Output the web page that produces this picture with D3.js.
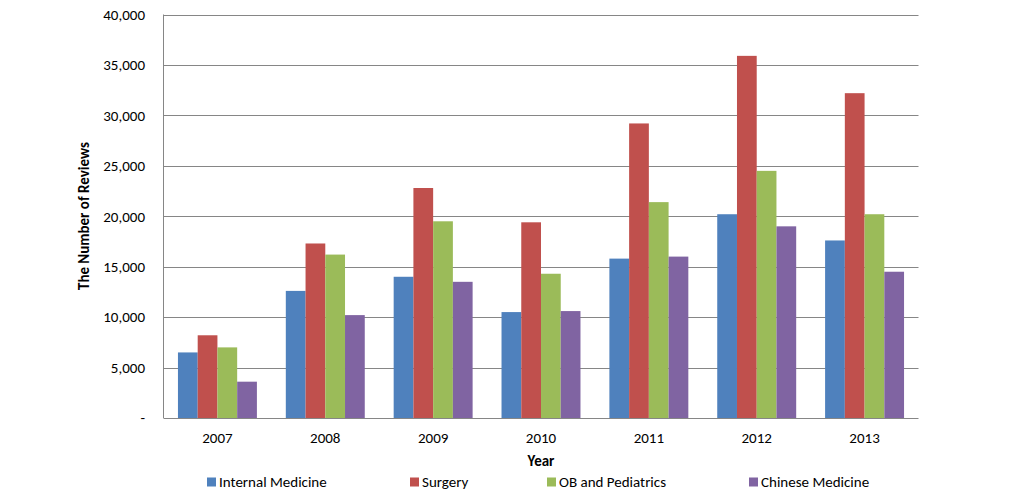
<!DOCTYPE html>
<html>
<head>
<meta charset="utf-8">
<script src="https://cdn.jsdelivr.net/npm/d3@7"></script>
<style>
  body { margin: 0; background: #fff; }
  text { font-family: Carlito, Lato, "Open Sans", sans-serif; fill: #000; }
</style>
</head>
<body>
<div id="chart"></div>
<script>
var years = ['2007', '2008', '2009', '2010', '2011', '2012', '2013'];
var seriesNames = ['Internal Medicine', 'Surgery', 'OB and Pediatrics', 'Chinese Medicine'];
var seriesColors = ['#4f81bd', '#c0504d', '#9bbb59', '#8064a2'];
var internalMedicine = [6500, 12600, 14000, 10500, 15800, 20200, 17600];
var surgery = [8200, 17300, 22800, 19400, 29200, 35900, 32200];
var obPediatrics = [7000, 16200, 19500, 14300, 21400, 24500, 20200];
var chineseMedicine = [3600, 10200, 13500, 10600, 16000, 19000, 14500];
var yTicks = [0, 5000, 10000, 15000, 20000, 25000, 30000, 35000, 40000];

var allSeries = [internalMedicine, surgery, obPediatrics, chineseMedicine];

var width = 1019, height = 499;
var plotLeft = 163.5, plotRight = 918.5, plotTop = 14.5, plotBottom = 418;
var fontSize = "15px";

var svg = d3.select("#chart").append("svg")
  .attr("width", width)
  .attr("height", height);

var x = d3.scaleBand()
  .domain(years)
  .range([plotLeft, plotRight])
  .paddingInner(0.268)
  .paddingOuter(0.134);

var xs = d3.scaleBand()
  .domain(seriesNames)
  .range([0, x.bandwidth()]);

var y = d3.scaleLinear()
  .domain([0, 40000])
  .range([plotBottom, plotTop]);

// gridlines
svg.append("g")
  .selectAll("line")
  .data(yTicks.slice(1))
  .enter().append("line")
  .attr("x1", plotLeft)
  .attr("x2", plotRight)
  .attr("y1", d => Math.round(y(d)) + 0.5)
  .attr("y2", d => Math.round(y(d)) + 0.5)
  .style("stroke", "#868686")
  .style("stroke-width", "1px");

// bars
seriesNames.forEach(function(name, si) {
  svg.append("g")
    .selectAll("rect")
    .data(allSeries[si])
    .enter().append("rect")
    .attr("x", (d, i) => x(years[i]) + xs(name))
    .attr("y", d => y(d))
    .attr("width", xs.bandwidth())
    .attr("height", d => plotBottom - y(d))
    .style("fill", seriesColors[si]);
});

// axis lines
svg.append("line")
  .attr("x1", plotLeft).attr("x2", plotLeft)
  .attr("y1", plotTop).attr("y2", plotBottom)
  .style("stroke", "#868686").style("stroke-width", "1px");
svg.append("line")
  .attr("x1", plotLeft).attr("x2", plotRight)
  .attr("y1", plotBottom + 0.5).attr("y2", plotBottom + 0.5)
  .style("stroke", "#868686").style("stroke-width", "1px");

// y tick labels
svg.append("g")
  .selectAll("text")
  .data(yTicks)
  .enter().append("text")
  .attr("x", 145)
  .attr("y", d => y(d))
  .attr("dy", "0.35em")
  .attr("text-anchor", "end")
  .attr("font-size", fontSize)
  .text(d => d === 0 ? "-" : d3.format(",")(d));

// x tick labels
svg.append("g")
  .selectAll("text")
  .data(years)
  .enter().append("text")
  .attr("x", d => x(d) + x.bandwidth() / 2)
  .attr("y", 438)
  .attr("dy", "0.35em")
  .attr("text-anchor", "middle")
  .attr("font-size", fontSize)
  .text(d => d);

// axis titles
svg.append("text")
  .attr("x", 541)
  .attr("y", 461)
  .attr("dy", "0.35em")
  .attr("text-anchor", "middle")
  .attr("font-size", fontSize)
  .attr("font-weight", "bold")
  .text("Year");

svg.append("text")
  .attr("transform", "translate(84,216) rotate(-90)")
  .attr("dy", "0.35em")
  .attr("text-anchor", "middle")
  .attr("font-size", fontSize)
  .attr("font-weight", "bold")
  .text("The Number of Reviews");

// legend
var legendX = [207, 410, 547, 749];
var legend = svg.append("g")
  .selectAll("g")
  .data(seriesNames)
  .enter().append("g")
  .attr("transform", (d, i) => "translate(" + legendX[i] + ",482)");

legend.append("rect")
  .attr("x", 0)
  .attr("y", -4.5)
  .attr("width", 9)
  .attr("height", 9)
  .style("fill", (d, i) => seriesColors[i]);

legend.append("text")
  .attr("x", 12)
  .attr("y", 0)
  .attr("dy", "0.35em")
  .attr("font-size", fontSize)
  .text(d => d);
</script>
</body>
</html>
